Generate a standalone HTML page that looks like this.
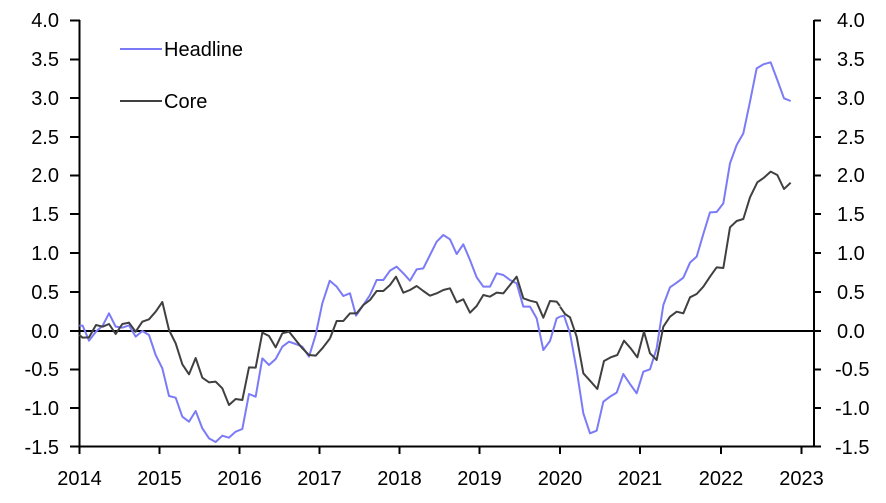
<!DOCTYPE html>
<html><head><meta charset="utf-8"><style>
html,body{margin:0;padding:0;background:#fff}
svg text{font-family:"Liberation Sans",Arial,sans-serif;font-size:20px;fill:#000}
</style></head><body>
<svg width="886" height="498" viewBox="0 0 886 498" xmlns="http://www.w3.org/2000/svg">
<g stroke="#000" stroke-width="2" fill="none">
<line x1="79.5" y1="20" x2="79.5" y2="447"/>
<line x1="814" y1="20" x2="814" y2="447"/>
<line x1="79" y1="446.5" x2="815" y2="446.5"/>
<line x1="80" y1="331" x2="814" y2="331"/>
<path d="M70 20.5H80M70 59.5H80M70 98H80M70 137H80M70 175.5H80M70 214H80M70 253H80M70 292H80M70 331H80M70 369.5H80M70 408H80M70 446.5H80"/>
<path d="M814 20.5H821M814 59.5H821M814 98H821M814 137H821M814 175.5H821M814 214H821M814 253H821M814 292H821M814 331H821M814 369.5H821M814 408H821M814 446.5H821"/>
<path d="M79.5 446V454M159.5 446V454M239.5 446V454M319.5 446V454M399.5 446V454M479.5 446V454M560 446V454M640 446V454M721 446V454M801.5 446V454"/>
</g>
<g text-anchor="end">
<text x="59" y="27">4.0</text><text x="59" y="66">3.5</text><text x="59" y="105">3.0</text><text x="59" y="144">2.5</text><text x="59" y="182">2.0</text><text x="59" y="221">1.5</text><text x="59" y="260">1.0</text><text x="59" y="299">0.5</text><text x="59" y="338">0.0</text><text x="59" y="376">-0.5</text><text x="59" y="415">-1.0</text><text x="59" y="454">-1.5</text>
</g>
<g>
<text x="837" y="27">4.0</text><text x="837" y="66">3.5</text><text x="837" y="105">3.0</text><text x="837" y="144">2.5</text><text x="837" y="182">2.0</text><text x="837" y="221">1.5</text><text x="837" y="260">1.0</text><text x="837" y="299">0.5</text><text x="837" y="338">0.0</text><text x="835" y="376">-0.5</text><text x="835" y="415">-1.0</text><text x="835" y="454">-1.5</text>
</g>
<g text-anchor="middle">
<text x="79.5" y="485">2014</text><text x="159.5" y="485">2015</text><text x="239.5" y="485">2016</text><text x="319.5" y="485">2017</text><text x="399.5" y="485">2018</text><text x="479.5" y="485">2019</text><text x="560" y="485">2020</text><text x="640" y="485">2021</text><text x="721" y="485">2022</text><text x="801.5" y="485">2023</text>
</g>
<line x1="120" y1="49" x2="162" y2="49" stroke="#7b7bf7" stroke-width="2"/>
<text x="164" y="56">Headline</text>
<line x1="120" y1="101" x2="162" y2="101" stroke="#404040" stroke-width="2"/>
<text x="164" y="108">Core</text>
<g fill="none" stroke-width="2" stroke-linejoin="round">
<g transform="translate(70,180) scale(0.33333)">
<polyline vector-effect="non-scaling-stroke" stroke="#7b7bf7" points="28,437 38,437 57,482 78,455 98,437 117,400 137,440 157,443 177,436 197,470 217,453 237,465 257,525 277,565 297,648 317,653 337,710 357,725 377,693 397,745 417,775 437,786 457,767 477,773 497,755 517,747 537,642 557,650 577,535 597,555 617,537 637,500 657,485 677,492 697,500 717,530 737,465 757,370 780,300"/>
<polyline vector-effect="non-scaling-stroke" stroke="#404040" points="28,465 38,473 57,472 78,435 98,440 117,432 137,462 157,432 177,428 197,455 217,425 237,418 257,395 277,366 297,450 317,490 337,553 357,583 377,534 397,593 417,607 437,605 457,625 477,675 497,657 517,660 537,562 557,563 577,458 597,468 617,502 637,460 657,455 677,480 697,505 717,525 737,527 757,505 780,475"/>
</g>
<g transform="translate(300,180) scale(0.33333)">
<polyline vector-effect="non-scaling-stroke" stroke="#7b7bf7" points="90,303 110,320 130,348 150,340 168,407 190,375 210,345 230,300 250,300 270,272 290,260 310,280 330,302 350,268 370,265 390,225 410,185 430,165 450,178 470,222 490,193 510,240 530,292 550,320 570,320 590,280 610,285 630,300 650,310 670,380 690,380 710,415 730,510 750,483 770,415 780,410"/>
<polyline vector-effect="non-scaling-stroke" stroke="#404040" points="90,475 110,423 130,423 150,400 170,400 190,375 210,360 230,333 250,333 270,315 288,290 310,338 330,330 350,318 370,333 390,347 410,340 430,330 450,325 470,367 490,358 510,398 530,378 550,345 570,350 590,338 610,340 630,315 650,290 670,355 690,362 710,367 730,413 750,363 770,365 780,378"/>
</g>
<g transform="translate(540,40) scale(0.33333)">
<polyline vector-effect="non-scaling-stroke" stroke="#7b7bf7" points="60,830 72,827 90,880 110,990 130,1120 150,1180 170,1172 190,1085 210,1070 230,1058 250,1002 270,1032 290,1060 310,995 330,988 350,925 370,795 390,742 410,728 430,713 450,668 470,650 490,582 510,517 530,516 550,490 570,370 590,315 610,280 630,185 650,85 670,73 692,67 712,120 732,175 752,183"/>
<polyline vector-effect="non-scaling-stroke" stroke="#404040" points="60,800 75,822 90,832 110,890 130,1000 150,1022 172,1047 192,963 212,952 232,945 252,902 272,925 292,952 312,875 330,940 350,960 370,860 390,830 410,815 430,820 450,772 470,762 490,740 510,710 530,682 550,684 570,562 590,543 610,537 630,472 652,427 672,413 692,395 712,405 732,447 752,428"/>
</g>
</g>
</svg>
</body></html>
